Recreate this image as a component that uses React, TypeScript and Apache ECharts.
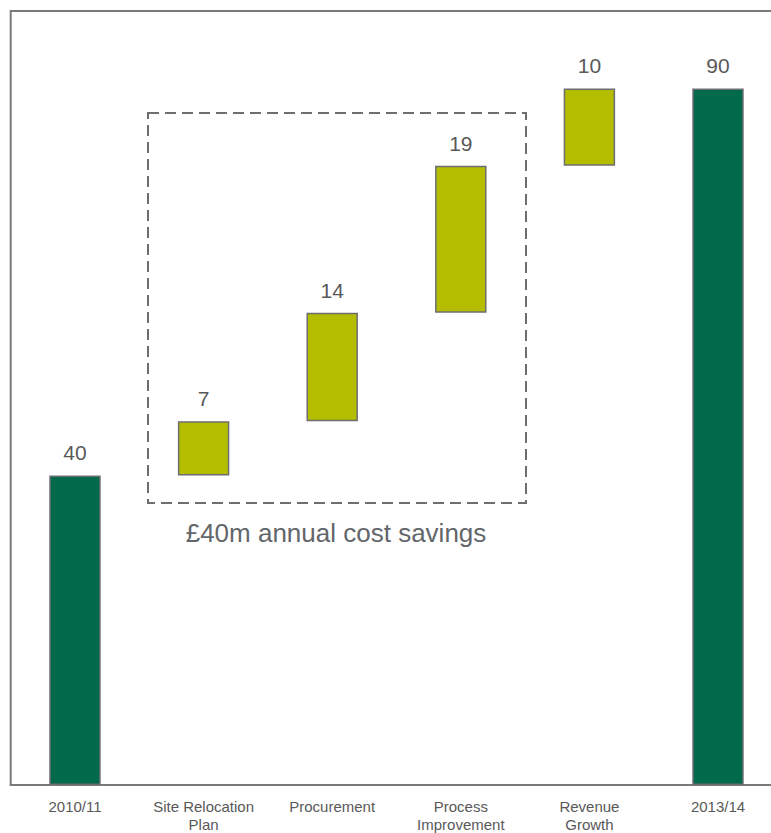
import React, { useEffect, useRef } from "react";
import * as echarts from "echarts";

const categories = ["2010/11", "Site Relocation\nPlan", "Procurement", "Process\nImprovement", "Revenue\nGrowth", "2013/14"];
const values = [40, 7, 14, 19, 10, 90];
const isTotal = [true, false, false, false, false, true];
const annotationText = "£40m annual cost savings";

const DARK = "#006a4a";
const OLIVE = "#b5bd00";
const GREY = "#6d6e71";

export default function App() {
  const ref = useRef<HTMLDivElement>(null);
  useEffect(() => {
    if (!ref.current) return;
    const chart = echarts.init(ref.current, undefined, { renderer: "svg" });
    let run = 0;
    const bases: number[] = [];
    values.forEach((v, i) => {
      if (isTotal[i]) {
        bases.push(0);
        run = v;
      } else {
        bases.push(run);
        run += v;
      }
    });
    chart.setOption({
      animation: false,
      grid: {
        left: 10.7,
        top: 11,
        width: 771.6,
        bottom: 48,
        show: true,
        borderColor: "#7a7a7a",
        borderWidth: 2,
        backgroundColor: "transparent",
      },
      xAxis: {
        type: "category",
        data: categories,
        axisLine: { show: true, lineStyle: { color: "#7a7a7a", width: 2 } },
        axisTick: { show: false },
        axisLabel: {
          color: "#595959",
          fontFamily: "Liberation Sans, Arial, sans-serif",
          fontSize: 15,
          lineHeight: 18,
          margin: 12,
          interval: 0,
        },
      },
      yAxis: {
        type: "value",
        min: 0,
        max: 100,
        show: false,
        splitLine: { show: false },
      },
      series: [
        {
          type: "bar",
          stack: "w",
          data: bases,
          itemStyle: { color: "transparent", borderColor: "transparent" },
          barWidth: "40%",
          silent: true,
        },
        {
          type: "bar",
          stack: "w",
          barWidth: "40%",
          data: values.map((v, i) => ({
            value: v,
            itemStyle: { color: isTotal[i] ? DARK : OLIVE },
          })),
          itemStyle: { borderColor: GREY, borderWidth: 1.5 },
          label: {
            show: true,
            position: "top",
            distance: 12,
            color: "#595959",
            fontFamily: "Liberation Sans, Arial, sans-serif",
            fontSize: 21,
          },
        },
      ],
      graphic: [
        {
          type: "rect",
          shape: { x: 148, y: 113, width: 378, height: 390 },
          style: { fill: "none", stroke: GREY, lineWidth: 2, lineDash: [11, 6] },
        },
        {
          type: "text",
          x: 336,
          y: 533,
          style: {
            text: annotationText,
            fill: "#63666a",
            font: "26px 'Liberation Sans', Arial, sans-serif",
            textAlign: "center",
            textVerticalAlign: "middle",
          },
        },
      ],
    });
    return () => chart.dispose();
  }, []);
  return (
    <div style={{ position: "absolute", left: 0, top: 0, width: 771, height: 833, overflow: "hidden" }}>
      <div ref={ref} style={{ width: 800, height: 833 }} />
    </div>
  );
}
